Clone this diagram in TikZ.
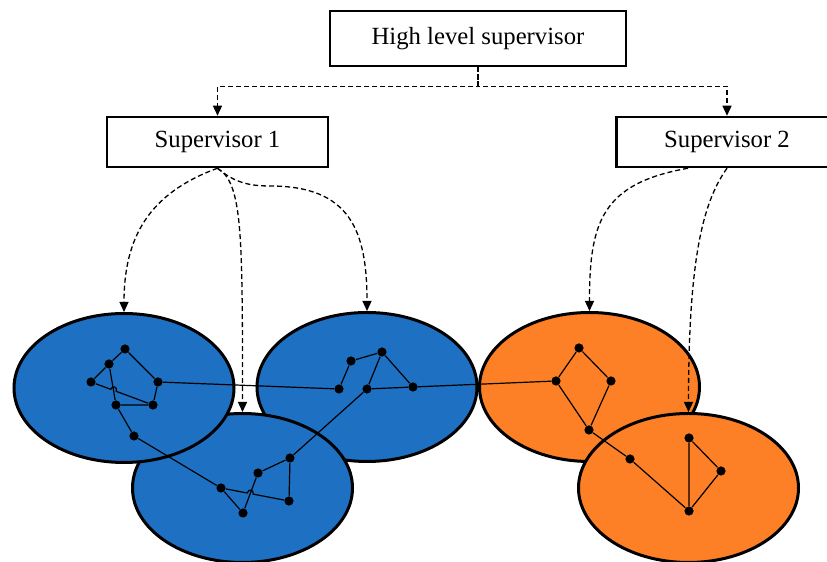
\documentclass[tikz,border=0pt]{standalone}
\usepackage{fontspec}
\setmainfont{Liberation Serif}
\usetikzlibrary{arrows.meta,shapes.geometric,calc}
\definecolor{zoneblue}{HTML}{1E70C2}
\definecolor{zoneorange}{HTML}{FD7F26}
\tikzset{
  sup/.style={draw, line width=1.25bp, inner sep=0pt,
    font=\fontsize{12.4}{15}\selectfont},
  zone/.style={draw, ellipse, line width=1.5bp, inner sep=0pt,
    minimum width=110bp, minimum height=74.5bp},
  agent/.style={circle, fill=black, inner sep=0pt, minimum size=4.6bp},
  link/.style={line width=0.6bp},
  ctrl/.style={dash pattern=on 2.5bp off 1.5bp, line width=0.65bp,
    -{Triangle[length=5bp,width=4.5bp]}},
}

\begin{document}
\begin{tikzpicture}[x=0.5bp, y=0.5bp]
  \useasboundingbox (0,0) rectangle (827,562);

  % supervisors
  \node [sup, minimum width=148bp, minimum height=27.5bp] (hls) at (478,523.5) {High level supervisor};
  \node [sup, minimum width=110.5bp, minimum height=25bp] (sup1) at (217.5,420) {Supervisor 1};
  \node [sup, minimum width=110.5bp, minimum height=25bp] (sup2) at (727,420) {Supervisor 2};

  % zones
  \node [zone, fill=zoneblue] (B) at (367,175) {};
  \node [zone, fill=zoneblue] (C) at (242.5,74) {};
  \node [zone, fill=zoneblue] (A) at (124,174) {};
  \node [zone, fill=zoneorange] (D) at (589.5,175) {};
  \node [zone, fill=zoneorange] (E) at (688.5,74) {};

  % agents
  \node [agent] (a1) at (125,213) {};
  \node [agent] (a2) at (109,198) {};
  \node [agent] (a3) at (91,180) {};
  \node [agent] (a4) at (158,180) {};
  \node [agent] (a5) at (116,157) {};
  \node [agent] (a6) at (153,157) {};
  \node [agent] (a7) at (134,126) {};

  \node [agent] (b1) at (339,173) {};
  \node [agent] (b2) at (351,201) {};
  \node [agent] (b3) at (382,210) {};
  \node [agent] (b4) at (367,173) {};
  \node [agent] (b5) at (413,175) {};

  \node [agent] (c1) at (290,104) {};
  \node [agent] (c2) at (258,89) {};
  \node [agent] (c3) at (221,74) {};
  \node [agent] (c4) at (289,61) {};
  \node [agent] (c5) at (243,49) {};

  \node [agent] (d1) at (556,181) {};
  \node [agent] (d2) at (579,214) {};
  \node [agent] (d3) at (611,181) {};
  \node [agent] (d4) at (589,132) {};
  \node [agent] (d5) at (630,103) {};

  \node [agent] (e1) at (689,124) {};
  \node [agent] (e2) at (721,91) {};
  \node [agent] (e3) at (689,51) {};

  % links
  \draw [link] (a1) -- (a2) -- (a3);
  \draw [link] (a1) -- (a4) -- (a6) -- (a5) -- (a2);
  \draw [link] (a5) -- (a7) -- (c3);
  \draw [link] (a4) -- (b1) -- (b2) -- (b3) -- (b5) -- (b4) -- (b3);
  \draw [link] (b4) -- (c1) -- (c2) -- (c5) -- (c3);
  \draw [link] (c1) -- (c4);
  \draw [link] (b5) -- (d1) -- (d2) -- (d3) -- (d4) -- (d1);
  \draw [link] (d4) -- (d5) -- (e3) -- (e1) -- (e2) -- (e3);

  % crossings with a hop
  \coordinate (ha1) at ($(a3)!.318!(a6)$);
  \coordinate (ha2) at ($(a3)!.408!(a6)$);
  \draw [link] (a3) -- (ha1) to[out=70, in=70, looseness=2] (ha2) -- (a6);
  \coordinate (hc1) at ($(c3)!.387!(c4)$);
  \coordinate (hc2) at ($(c3)!.474!(c4)$);
  \draw [link] (c3) -- (hc1) to[out=79, in=79, looseness=2] (hc2) -- (c4);

  % control
  \draw [ctrl] (hls.south) -- ++(0,-19) -| (sup1.north);
  \draw [ctrl] (hls.south) -- ++(0,-19) -| (sup2.north);
  \draw [line width=1.2bp, dash pattern=on 2.5bp off 1bp] (hls.south) -- ++(0,-19);

  \coordinate (bend) at (270,376);
  \draw [ctrl] (sup1.south) to[out=200, in=90, looseness=1.1] (A.north);
  \draw [ctrl] (sup1.south) .. controls +(25,-15) and +(0,180) .. (C.north);
  \draw [ctrl] (sup1.south) to[out=-40, in=180] (bend) to[out=0, in=90, looseness=1.3] (B.north);

  \draw [ctrl] ([xshift=-19.5bp]sup2.south) to[out=190, in=90, looseness=1.3] (D.north);
  \draw [ctrl] (sup2.south) .. controls +(-25,-35) and +(0,150) .. (E.north);
\end{tikzpicture}
\end{document}
